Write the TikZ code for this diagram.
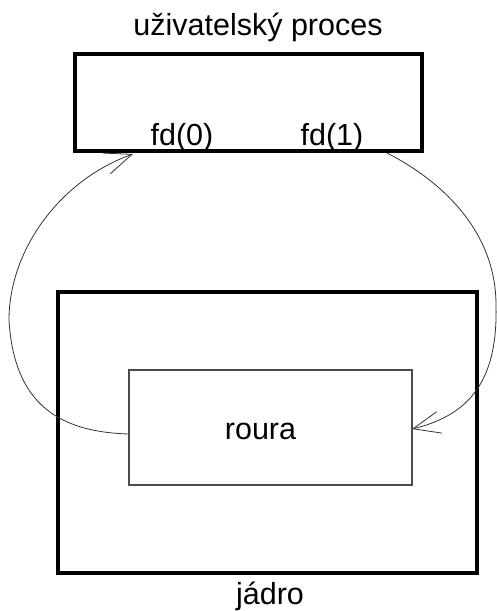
\documentclass[tikz,border=0pt]{standalone}
\usepackage{fontspec}
\setmainfont{Liberation Sans}
\usetikzlibrary{arrows.meta,calc}
\begin{document}
\begin{tikzpicture}[x=1pt,y=-1pt,
  heavybox/.style={draw=black,line width=4pt,inner sep=0pt,outer sep=0pt},
  pipebox/.style={draw=black!70,line width=1.4pt,inner sep=0pt,outer sep=0pt},
  txt/.style={font=\fontsize{30.5}{36}\selectfont,inner sep=0pt,anchor=base},
  flow/.style={draw=black!80,line width=0.8pt,
    -{Straight Barb[length=27pt,width=22pt,line width=0.8pt]}}]
  % canvas
  \fill[white] (0,0) rectangle (496,611);
  \useasboundingbox (0,0) rectangle (496,611);

  % user process
  \node[heavybox,minimum width=347pt,minimum height=96.4pt] (proc) at (248.5,102.5) {};
  \node[txt] (proclbl) at (258,35) {uživatelský proces};
  \node[txt] (fd0) at (182,145) {fd(0)};
  \node[txt] (fd1) at (332,145) {fd(1)};

  % kernel with the pipe inside
  \node[heavybox,minimum width=419pt,minimum height=281pt] (kernel) at (267.5,432.2) {};
  \node[txt] (kernellbl) at (270,604.5) {jádro};
  \node[pipebox,minimum width=283pt,minimum height=115pt] (pipe) at (270.5,427.5) {};
  \node[txt] (pipelbl) at (260.5,439) {roura};

  % attachment points of the connectors
  \coordinate (in0) at (133,154);
  \coordinate (out1) at (387,153);
  \coordinate (pipeout) at ($(pipe.west)+(0,6.5)$);
  \coordinate (pipein) at ($(pipe.east)+(0,1.5)$);
  \coordinate (leftmost) at (9,320);
  \coordinate (rightmost) at (496,305);

  % pipe read end -> fd(0)
  \draw[flow] (pipeout) .. controls (60,432) and (14,405) .. (leftmost)
                        .. controls (9,250) and (60,180) .. (in0);
  % fd(1) -> pipe write end
  \draw[flow] (out1) .. controls (440,180) and (496,230) .. (rightmost)
                     .. controls (498,380) and (470,415) .. (pipein);
\end{tikzpicture}
\end{document}
